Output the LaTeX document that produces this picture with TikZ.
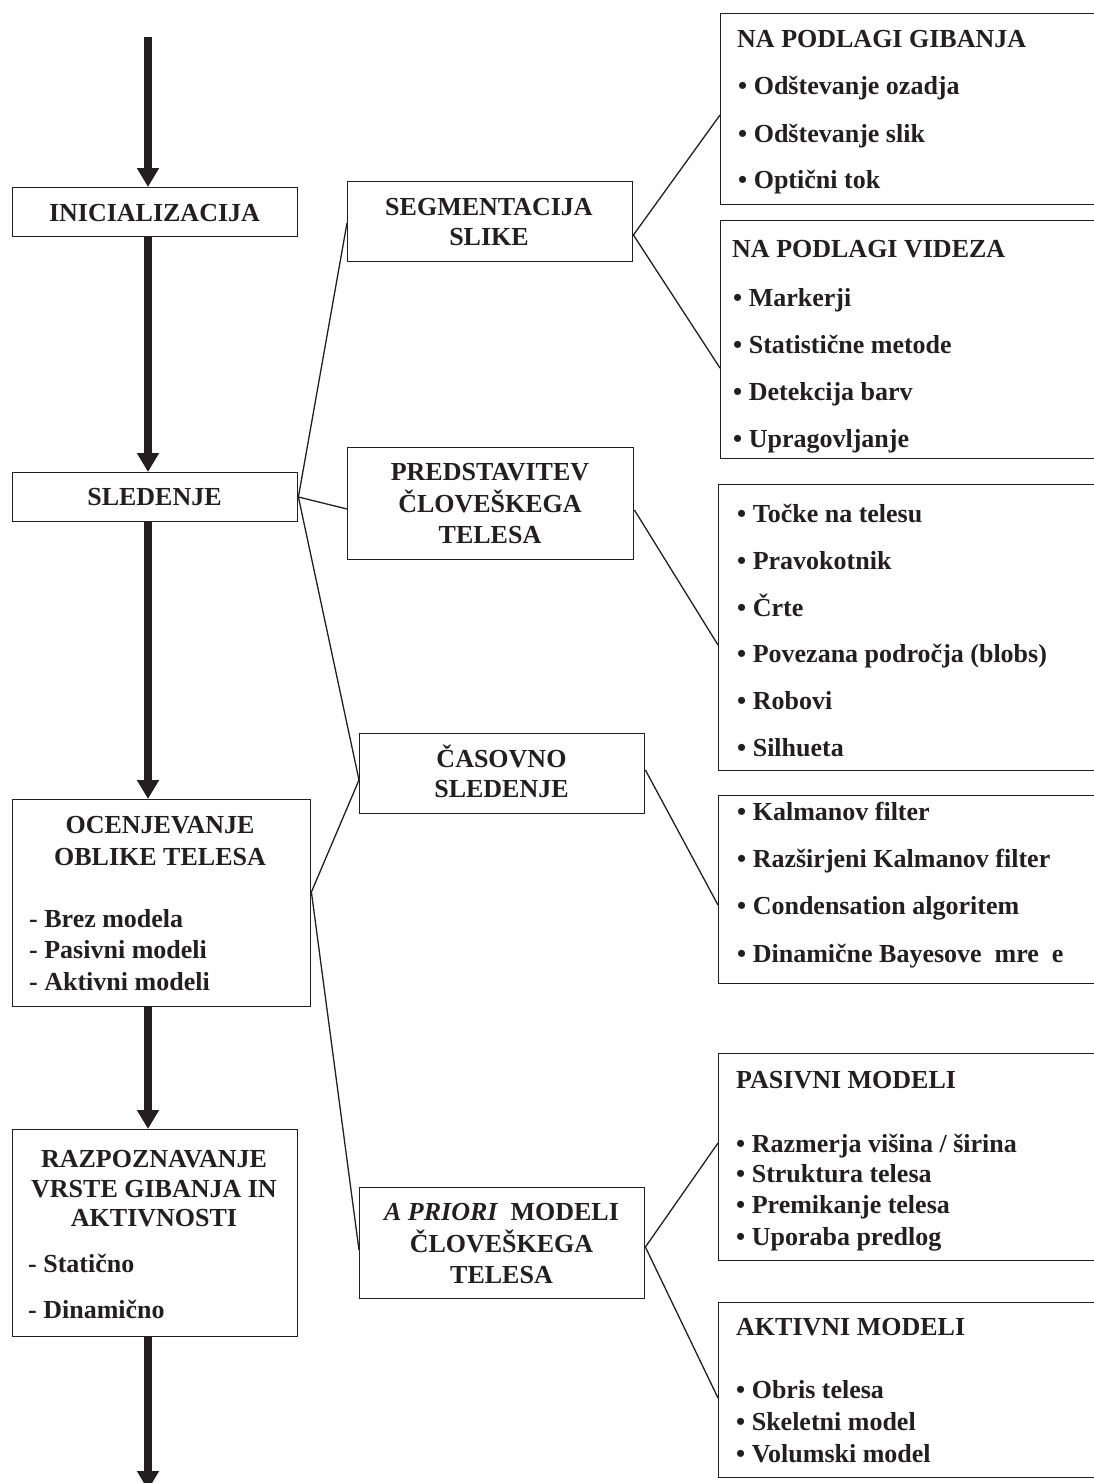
\documentclass[tikz,border=0pt]{standalone}
\usepackage{fontspec}
\setmainfont{Liberation Serif}
\usetikzlibrary{arrows.meta,calc}
\definecolor{ink}{HTML}{231F20}
\begin{document}
\begin{tikzpicture}[x=1pt,y=-1pt,
  box/.style={draw=ink, line width=1.4pt, inner sep=0pt, anchor=north west},
  txt/.style={inner sep=0pt, text=ink, font=\bfseries\fontsize{26}{31}\selectfont},
  ctr/.style={txt, anchor=base},
  lft/.style={txt, anchor=base west},
  conn/.style={draw=ink, line width=1.3pt},
  flow/.style={draw=ink, line width=8pt, -{Triangle[width=21pt,length=19pt]}}]
\useasboundingbox (0,0) rectangle (1093,1483);

% left column boxes
\node[box, minimum width=285pt, minimum height=49pt]  (ini)  at (12,187)  {};
\node[box, minimum width=285pt, minimum height=49pt]  (sled) at (12,472)  {};
\node[box, minimum width=298pt, minimum height=207pt] (ocen) at (12,799)  {};
\node[box, minimum width=285pt, minimum height=207pt] (razp) at (12,1129) {};
% middle column boxes
\node[box, minimum width=285pt, minimum height=80pt]  (seg)  at (347,181)  {};
\node[box, minimum width=286pt, minimum height=112pt] (pred) at (347,447)  {};
\node[box, minimum width=285pt, minimum height=80pt]  (cas)  at (359,733)  {};
\node[box, minimum width=285pt, minimum height=111pt] (apr)  at (359,1187) {};
% right column boxes
\node[box, minimum width=400pt, minimum height=191pt] (gib) at (720,13)   {};
\node[box, minimum width=400pt, minimum height=238pt] (vid) at (720,220)  {};
\node[box, minimum width=400pt, minimum height=286pt] (tel) at (718,484)  {};
\node[box, minimum width=400pt, minimum height=188pt] (kal) at (718,795)  {};
\node[box, minimum width=400pt, minimum height=207pt] (pas) at (718,1053) {};
\node[box, minimum width=400pt, minimum height=175pt] (akt) at (718,1302) {};

% left column texts
\node[ctr] (tini) at (154.5,221) {INICIALIZACIJA};
\node[ctr] (tsled) at (154.5,505) {SLEDENJE};
\node[ctr] (toc1) at (160,833) {OCENJEVANJE};
\node[ctr] (toc2) at (160,865) {OBLIKE TELESA};
\node[lft] (toc3) at (29,927) {- Brez modela};
\node[lft] (toc4) at (29,958) {- Pasivni modeli};
\node[lft] (toc5) at (29,990) {- Aktivni modeli};
\node[ctr] (trz1) at (154,1167) {RAZPOZNAVANJE};
\node[ctr] (trz2) at (154,1197) {VRSTE GIBANJA IN};
\node[ctr] (trz3) at (154,1226) {AKTIVNOSTI};
\node[lft] (trz4) at (28,1272) {- Statično};
\node[lft] (trz5) at (28,1318) {- Dinamično};

% middle column texts
\node[ctr] (tsg1) at (489,215) {SEGMENTACIJA};
\node[ctr] (tsg2) at (489,245) {SLIKE};
\node[ctr] (tpr1) at (490,480) {PREDSTAVITEV};
\node[ctr] (tpr2) at (490,512) {ČLOVEŠKEGA};
\node[ctr] (tpr3) at (490,543) {TELESA};
\node[ctr] (tcs1) at (501.5,767) {ČASOVNO};
\node[ctr] (tcs2) at (501.5,797) {SLEDENJE};
\node[ctr] (tap1) at (501.5,1220) {{\itshape A PRIORI}\ \ MODELI};
\node[ctr] (tap2) at (501.5,1252) {ČLOVEŠKEGA};
\node[ctr] (tap3) at (501.5,1283) {TELESA};

% right column texts
\node[lft] (tgb0) at (737,47)  {NA PODLAGI GIBANJA};
\node[lft] (tgb1) at (738,94)  {• Odštevanje ozadja};
\node[lft] (tgb2) at (738,142) {• Odštevanje slik};
\node[lft] (tgb3) at (738,188) {• Optični tok};

\node[lft] (tvd0) at (732,257) {NA PODLAGI VIDEZA};
\node[lft] (tvd1) at (733,306) {• Markerji};
\node[lft] (tvd2) at (733,353) {• Statistične metode};
\node[lft] (tvd3) at (733,400) {• Detekcija barv};
\node[lft] (tvd4) at (733,447) {• Upragovljanje};

\node[lft] (ttl1) at (737,522) {• Točke na telesu};
\node[lft] (ttl2) at (737,569) {• Pravokotnik};
\node[lft] (ttl3) at (737,616) {• Črte};
\node[lft] (ttl4) at (737,662) {• Povezana področja (blobs)};
\node[lft] (ttl5) at (737,709) {• Robovi};
\node[lft] (ttl6) at (737,756) {• Silhueta};

\node[lft] (tkl1) at (737,820) {• Kalmanov filter};
\node[lft] (tkl2) at (737,867) {• Razširjeni Kalmanov filter};
\node[lft] (tkl3) at (737,914) {• Condensation algoritem};
\node[lft] (tkl4) at (737,962) {• Dinamične Bayesove\ \ mre\hspace{0.5em}e};

\node[lft] (tps0) at (736,1088) {PASIVNI MODELI};
\node[lft] (tps1) at (736,1152) {• Razmerja višina / širina};
\node[lft] (tps2) at (736,1182) {• Struktura telesa};
\node[lft] (tps3) at (736,1213) {• Premikanje telesa};
\node[lft] (tps4) at (736,1245) {• Uporaba predlog};

\node[lft] (tak0) at (736,1335) {AKTIVNI MODELI};
\node[lft] (tak1) at (736,1398) {• Obris telesa};
\node[lft] (tak2) at (736,1430) {• Skeletni model};
\node[lft] (tak3) at (736,1462) {• Volumski model};

% junction points on box borders
\coordinate (sledR) at ($(sled.north east)+(0,25)$);
\coordinate (segL)  at ($(seg.north west)+(0,42)$);
\coordinate (segR)  at ($(seg.north east)+(0,54)$);
\coordinate (gibL)  at ($(gib.north west)+(0,102)$);
\coordinate (vidL)  at ($(vid.north west)+(0,148)$);
\coordinate (predL) at ($(pred.north west)+(0,62)$);
\coordinate (predR) at ($(pred.north east)+(0,63)$);
\coordinate (telL)  at ($(tel.north west)+(0,161)$);
\coordinate (casL)  at ($(cas.north west)+(0,47)$);
\coordinate (casR)  at ($(cas.north east)+(0,37)$);
\coordinate (kalL)  at ($(kal.north west)+(0,110)$);
\coordinate (ocenR) at ($(ocen.north east)+(0,93)$);
\coordinate (aprL)  at ($(apr.north west)+(0,63)$);
\coordinate (aprR)  at ($(apr.north east)+(0,60)$);
\coordinate (pasL)  at ($(pas.north west)+(0,90)$);
\coordinate (aktL)  at ($(akt.north west)+(0,96)$);

% thin connectors
\draw[conn] (segL) -- (sledR) -- (predL);
\draw[conn] (sledR) -- (casL) -- (ocenR) -- (aprL);
\draw[conn] (gibL) -- (segR) -- (vidL);
\draw[conn] (predR) -- (telL);
\draw[conn] (casR) -- (kalL);
\draw[conn] (pasL) -- (aprR) -- (aktL);

% main flow arrows
\coordinate (start) at (148,37);
\coordinate (finish) at (148,1490);
\draw[flow] (start) -- (start |- ini.north);
\draw[flow] (start |- ini.south) -- (start |- sled.north);
\draw[flow] (start |- sled.south) -- (start |- ocen.north);
\draw[flow] (start |- ocen.south) -- (start |- razp.north);
\draw[flow] (start |- razp.south) -- (finish);
\end{tikzpicture}
\end{document}
